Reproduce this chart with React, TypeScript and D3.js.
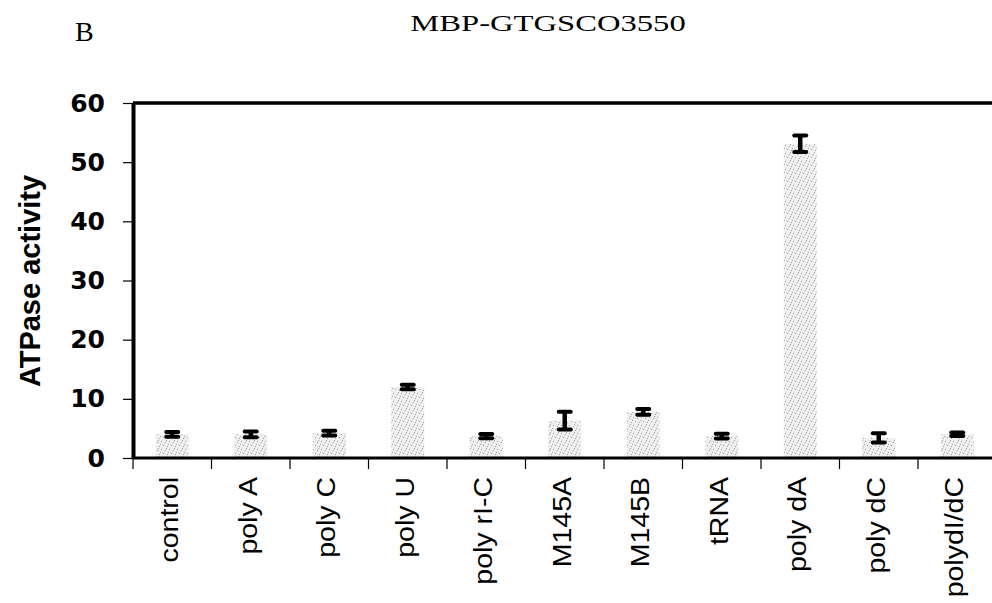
import React, { useEffect, useRef } from 'react';
import * as d3 from 'd3';

// values
const categories = ['control', 'poly A', 'poly C', 'poly U', 'poly rI-C', 'M145A', 'M145B', 'tRNA', 'poly dA', 'poly dC', 'polydI/dC'];
const means = [4.0, 4.0, 4.2, 12.0, 3.7, 6.3, 7.8, 3.7, 53.1, 3.4, 4.0];
const errors = [0.4, 0.5, 0.4, 0.4, 0.35, 1.5, 0.5, 0.4, 1.4, 0.8, 0.3];
const yTicks = [0, 10, 20, 30, 40, 50, 60];

export default function App() {
    const svgRef = useRef<SVGSVGElement>(null);

    useEffect(() => {
        const svg = d3.select(svgRef.current);
        svg.selectAll('*').remove();

        const width = 992;
        const margin = { top: 103, left: 133, bottom: 458 };
        const step = 78.5;

        const x = d3.scaleBand<string>()
            .domain(categories)
            .range([margin.left, margin.left + step * categories.length])
            .paddingInner(0.58)
            .paddingOuter(0.29);
        const y = d3.scaleLinear().domain([0, 60]).range([margin.bottom, margin.top]);

        // stipple fill for the bars
        const defs = svg.append('defs');
        const pat = defs.append('pattern')
            .attr('id', 'stipple')
            .attr('patternUnits', 'userSpaceOnUse')
            .attr('width', 8)
            .attr('height', 8);
        pat.append('rect').attr('width', 8).attr('height', 8).attr('fill', '#efefef');
        [[1, 1], [5, 2], [3, 5], [7, 6], [0, 4], [6, 0]].forEach(([px, py]) => {
            pat.append('rect').attr('x', px).attr('y', py).attr('width', 1).attr('height', 1).attr('fill', '#a0a0a0');
        });

        const serif = '"Liberation Serif", "Times New Roman", serif';
        const sans = '"Liberation Sans", Arial, sans-serif';

        svg.append('text')
            .attr('x', 75).attr('y', 41)
            .attr('font-family', serif)
            .attr('font-size', 28)
            .text('B');

        svg.append('text')
            .attr('transform', 'translate(548,31) scale(1.36,1)')
            .attr('text-anchor', 'middle')
            .attr('font-family', serif)
            .attr('font-size', 24)
            .text('MBP-GTGSCO3550');

        // bars
        svg.append('g').selectAll('rect')
            .data(categories)
            .enter()
            .append('rect')
            .attr('x', d => x(d)!)
            .attr('width', x.bandwidth())
            .attr('y', (d, i) => y(means[i]))
            .attr('height', (d, i) => y(0) - y(means[i]))
            .attr('fill', 'url(#stipple)');

        // error bars
        const eb = svg.append('g').attr('stroke', '#000');
        categories.forEach((c, i) => {
            const cx = x(c)! + x.bandwidth() / 2;
            const y1 = y(means[i] + errors[i]);
            const y2 = y(means[i] - errors[i]);
            eb.append('line').attr('x1', cx).attr('x2', cx).attr('y1', y1).attr('y2', y2).attr('stroke-width', 4.5);
            eb.append('line').attr('x1', cx - 6).attr('x2', cx + 6).attr('y1', y1).attr('y2', y1).attr('stroke-width', 4).attr('stroke-linecap', 'round');
            eb.append('line').attr('x1', cx - 6).attr('x2', cx + 6).attr('y1', y2).attr('y2', y2).attr('stroke-width', 4).attr('stroke-linecap', 'round');
        });

        // Y axis
        const yAxis = svg.append('g')
            .attr('transform', `translate(${margin.left},0)`)
            .call(d3.axisLeft(y).tickValues(yTicks).tickSize(10).tickSizeOuter(0).tickPadding(18));
        yAxis.select('.domain').attr('stroke-width', 4);
        yAxis.selectAll('.tick line').attr('stroke-width', 1.2);
        yAxis.selectAll('text')
            .attr('font-family', '"DejaVu Sans", sans-serif')
            .attr('font-weight', 'bold')
            .attr('font-size', 25)
            .attr('fill', '#000');

        // top frame line
        svg.append('line')
            .attr('x1', margin.left).attr('x2', width)
            .attr('y1', y(60)).attr('y2', y(60))
            .attr('stroke', '#000').attr('stroke-width', 3.5);

        // X axis with ticks between categories
        const xg = svg.append('g').attr('transform', `translate(0,${margin.bottom})`);
        xg.append('line')
            .attr('x1', margin.left).attr('x2', width)
            .attr('stroke', '#000').attr('stroke-width', 3);
        xg.selectAll('.sep')
            .data(d3.range(categories.length + 1))
            .enter()
            .append('line')
            .attr('x1', i => margin.left + i * step)
            .attr('x2', i => margin.left + i * step)
            .attr('y1', 0).attr('y2', 11)
            .attr('stroke', '#000').attr('stroke-width', 1.2);
        xg.selectAll('.lbl')
            .data(categories)
            .enter()
            .append('text')
            .attr('transform', d => `translate(${x(d)! + x.bandwidth() / 2 + 6},19) rotate(-90) scale(1.14,1)`)
            .attr('text-anchor', 'end')
            .attr('font-family', sans)
            .attr('font-size', 25)
            .text(d => d);

        svg.append('text')
            .attr('transform', `translate(40,${(172 + 390) / 2}) rotate(-90)`)
            .attr('text-anchor', 'middle')
            .attr('font-family', sans)
            .attr('font-weight', 'bold')
            .attr('font-size', 29)
            .text('ATPase activity');
    }, []);

    return (
        <svg ref={svgRef} width={992} height={603}
            style={{ position: 'absolute', left: 0, top: 0, background: '#fff' }} />
    );
}
